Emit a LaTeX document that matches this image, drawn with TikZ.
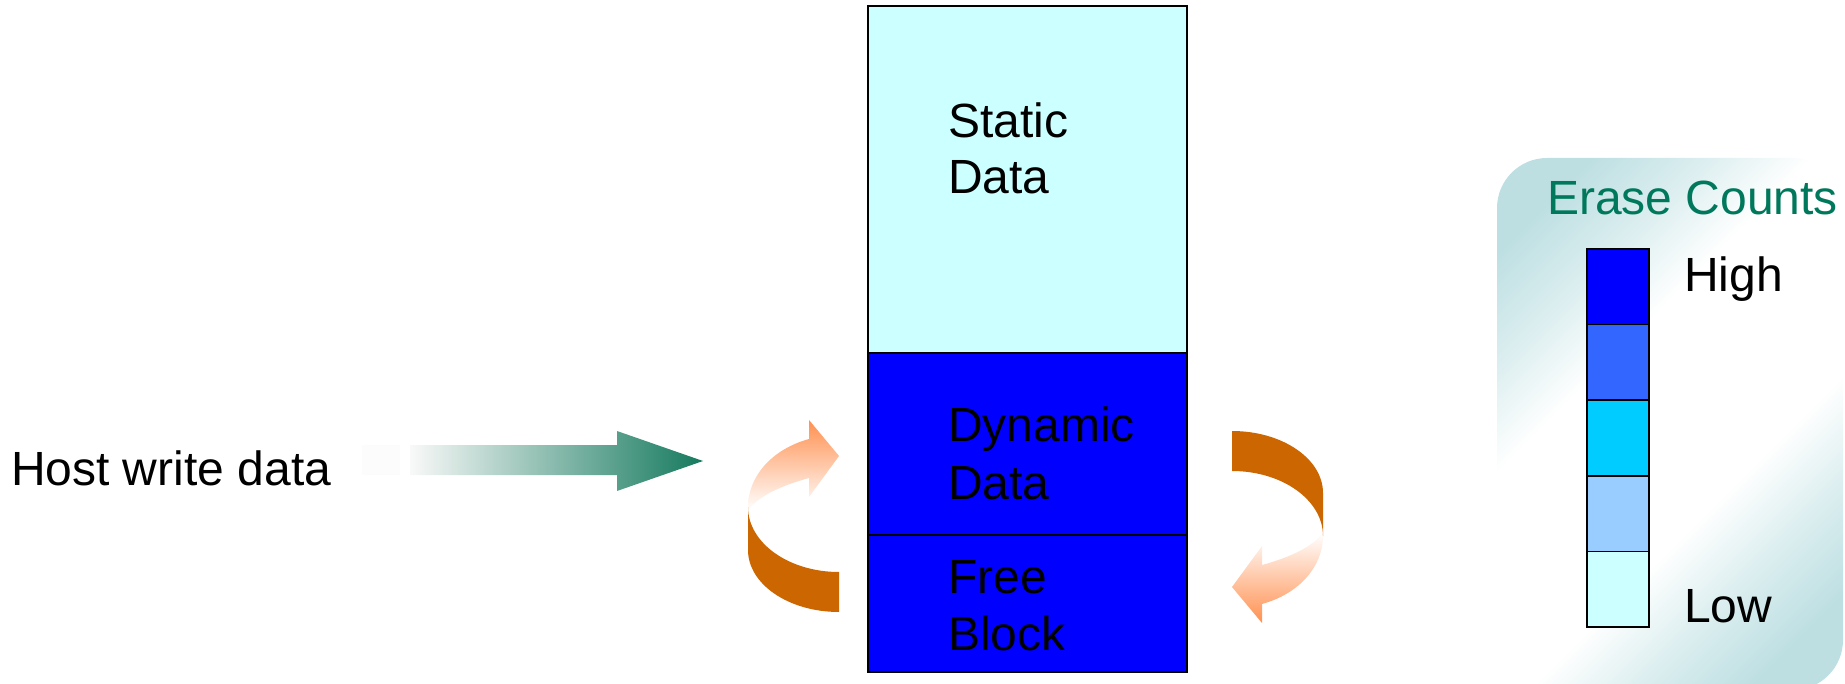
\documentclass[tikz,border=0pt]{standalone}
\usepackage{fontspec}
\setmainfont{Liberation Sans}
\definecolor{cyanlt}{HTML}{CCFFFF}
\definecolor{bluefull}{HTML}{0000FF}
\definecolor{bluemid}{HTML}{3366FF}
\definecolor{bluesky}{HTML}{00CCFF}
\definecolor{bluepale}{HTML}{99CCFF}
\definecolor{gdark}{HTML}{157A5E}
\definecolor{gtitle}{HTML}{00785C}
\definecolor{osolid}{HTML}{CC6600}
\definecolor{olight}{HTML}{FF9050}
\definecolor{panelc}{HTML}{BDDFE2}
\pgfdeclareverticalshading{panelsh}{100bp}{color(0bp)=(panelc); color(22bp)=(panelc); color(31bp)=(panelc!55); color(40bp)=(white); color(60bp)=(white); color(69bp)=(panelc!55); color(78bp)=(panelc); color(100bp)=(panelc)}
\begin{document}
\begin{tikzpicture}[x=1pt,y=-1pt,
  every node/.style={font=\fontsize{48}{57}\selectfont, inner sep=0pt, outer sep=0pt},
  memblock/.style={draw=black, line width=1.6pt, anchor=north west, minimum width=319pt},
  scalebox/.style={draw=black, line width=1.6pt, anchor=north west, minimum width=62pt, minimum height=75.6pt},
  lbl/.style={anchor=base west}]
\useasboundingbox (0,0) rectangle (1845,684);

% Erase counts panel
\shade[shading=panelsh, shading angle=45, rounded corners=50pt]
  (1497,158) rectangle (1843,690);
\node[lbl, text=gtitle] (title) at (1547,215) {Erase Counts};
\node[scalebox, fill=bluefull] (c1) at (1587,249) {};
\node[scalebox, fill=bluemid]  (c2) at (1587,324.6) {};
\node[scalebox, fill=bluesky]  (c3) at (1587,400.2) {};
\node[scalebox, fill=bluepale] (c4) at (1587,475.8) {};
\node[scalebox, fill=cyanlt]   (c5) at (1587,551.4) {};
\node[lbl] (high) at (1684,292) {High};
\node[lbl] (low) at (1684,622) {Low};

% memory column
\node[memblock, fill=cyanlt, minimum height=347pt] (static) at (868,6) {};
\node[memblock, fill=bluefull, minimum height=182pt] (dynamic) at (868,353) {};
\node[memblock, fill=bluefull, minimum height=137pt] (free) at (868,535) {};
\node[lbl] (s1) at (948,138) {Static};
\node[lbl] (s2) at (948,194) {Data};
\node[lbl] (d1) at (948,442) {Dynamic};
\node[lbl] (d2) at (948,499) {Data};
\node[lbl] (f1) at (948,593) {Free};
\node[lbl] (f2) at (948,650) {Block};

% host write data
\node[lbl] (host) at (11,485) {Host write data};
\fill[gray!2] (362,445) rectangle (400,475);
\shade[left color=gray!5, right color=gdark]
  (410,445) -- (617,445) -- (617,431) -- (703,461) -- (617,491) -- (617,475) -- (410,475) -- cycle;

% left curved arrow
\shade[top color=olight, bottom color=white]
  (748,507) .. controls (748,476) and (772.5,449) .. (809,439) -- (809,420) -- (839,456)
  -- (809,497) -- (809,478) .. controls (780,486) and (757,497) .. (749,510) -- (748,510) -- cycle;
\fill[osolid]
  (748,507) .. controls (748,542.9) and (788.7,572) .. (839,572) -- (839,612)
  .. controls (788.7,612) and (748,584.2) .. (748,550) -- cycle;

% right curved arrow
\shade[bottom color=olight, top color=white]
  (1323,536) .. controls (1323,567) and (1298.5,594) .. (1262,604) -- (1262,623) -- (1232,587)
  -- (1262,546) -- (1262,565) .. controls (1291,557) and (1314,546) .. (1322,533) -- (1323,533) -- cycle;
\fill[osolid]
  (1323,536) .. controls (1323,500.1) and (1282.3,471) .. (1232,471) -- (1232,431)
  .. controls (1282.3,431) and (1323,458.8) .. (1323,493) -- cycle;
\end{tikzpicture}
\end{document}
